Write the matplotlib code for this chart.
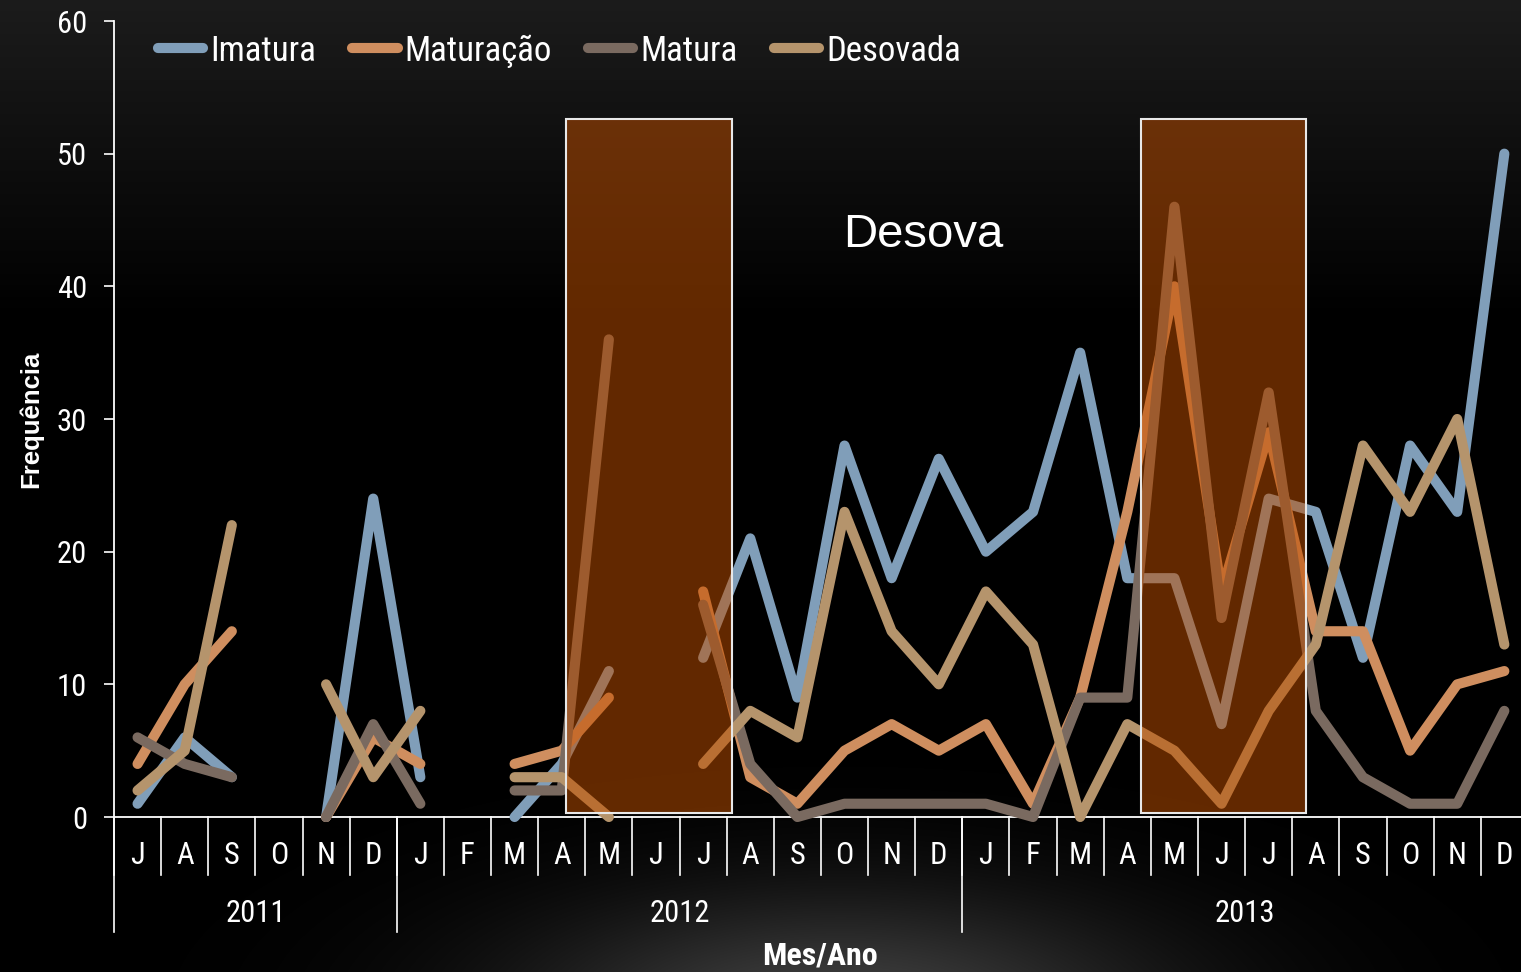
import numpy as np
import matplotlib
matplotlib.use('Agg')
import matplotlib.pyplot as plt
from matplotlib.patches import Rectangle
from matplotlib.font_manager import FontProperties

# ---------------- data ----------------
months = ['J', 'A', 'S', 'O', 'N', 'D',
          'J', 'F', 'M', 'A', 'M', 'J', 'J', 'A', 'S', 'O', 'N', 'D',
          'J', 'F', 'M', 'A', 'M', 'J', 'J', 'A', 'S', 'O', 'N', 'D']
years = ['2011', '2012', '2013']
year_counts = [6, 12, 12]
nan = np.nan
imatura = [1, 6, 3, nan, 0, 24, 3, nan, 0, 4, 11, nan, 12, 21, 9, 28, 18, 27,
           20, 23, 35, 18, 18, 7, 24, 23, 12, 28, 23, 50]
maturacao = [4, 10, 14, nan, 0, 6, 4, nan, 4, 5, 9, nan, 17, 3, 1, 5, 7, 5,
             7, 1, 9, 23, 40, 17, 29, 14, 14, 5, 10, 11]
matura = [6, 4, 3, nan, 0, 7, 1, nan, 2, 2, 36, nan, 16, 4, 0, 1, 1, 1,
          1, 0, 9, 9, 46, 15, 32, 8, 3, 1, 1, 8]
desovada = [2, 5, 22, nan, 10, 3, 8, nan, 3, 3, 0, nan, 4, 8, 6, 23, 14, 10,
            17, 13, 0, 7, 5, 1, 8, 13, 28, 23, 30, 13]
series_names = ['Imatura', 'Maturação', 'Matura', 'Desovada']
series_values = [imatura, maturacao, matura, desovada]
colors = ['#809EB9', '#CF8E5F', '#7A6A60', '#B5946C']

# ---------------- style ----------------
NARROW = ['Roboto Condensed', 'Archivo Narrow', 'PT Sans Narrow', 'DejaVu Sans']
REG = ['Arimo', 'Liberation Sans', 'DejaVu Sans']
W, H = 1521, 972
fig = plt.figure(figsize=(W / 100, H / 100), dpi=100)
fig.patch.set_facecolor('black')

# background gradient
bg = fig.add_axes([0, 0, 1, 1])
bg.axis('off')
yy, xx = np.mgrid[0:H, 0:W].astype(float)
top = 28 * np.clip(1 - yy / 320, 0, 1)
glow = 62 * np.exp(-(((xx - 840) / 330) ** 2 + ((yy - 1010) / 120) ** 2))
v = np.maximum(top, glow) / 255
bg.imshow(np.dstack([v, v, v]), extent=[0, 1, 0, 1], aspect='auto', origin='upper')
bg.set_xlim(0, 1)
bg.set_ylim(0, 1)

ax_l, ax_b, ax_t = 114, 817, 21
ax = fig.add_axes([ax_l / W, 1 - ax_b / H, (W - ax_l) / W, (ax_b - ax_t) / H])
ax.set_facecolor('none')
step = 47.13
x = np.arange(len(months))
ax.set_xlim(-0.5, -0.5 + (W - ax_l) / step)
ax.set_ylim(0, 60)

for name, vals, c in zip(series_names, series_values, colors):
    ax.plot(x, vals, color=c, lw=7.3, solid_capstyle='round',
            solid_joinstyle='round', label=name, clip_on=False, zorder=3)

# spawning period boxes
for x0, x1 in [(9.08, 12.62), (21.3, 24.8)]:
    ax.add_patch(Rectangle((x0, 0.3), x1 - x0, 52.6 - 0.3,
                           facecolor=(0.745, 0.306, 0.0, 0.52),
                           edgecolor='#e8e8e8', lw=1.5, zorder=5))
ax.text(16.67, 43.9, 'Desova', fontsize=34, color='white', ha='center',
        va='center', family=REG, zorder=6)

# axes styling
for s in ['top', 'right']:
    ax.spines[s].set_visible(False)
for s in ['left', 'bottom']:
    ax.spines[s].set_color('white')
    ax.spines[s].set_linewidth(1.3)
ax.set_yticks(range(0, 61, 10))
ax.tick_params(axis='y', colors='white', length=7.5, width=1.2, pad=12,
               labelsize=22)
for lbl in ax.get_yticklabels():
    lbl.set_family(NARROW)
ax.set_xticks([])

trans = ax.get_xaxis_transform()
hpx = ax_b - ax_t
for i in range(len(months) + 1):
    ax.plot([i - 0.5, i - 0.5], [0, -58 / hpx], color='white', lw=1.2,
            transform=trans, clip_on=False)
for i, m in enumerate(months):
    ax.text(i, -38 / hpx, m, transform=trans, ha='center', va='center',
            fontsize=22, family=NARROW, color='white')
start = 0
bounds = [-0.5]
for yl, n in zip(years, year_counts):
    ax.text(start + (n - 1) / 2, -96 / hpx, yl, transform=trans, ha='center',
            va='center', fontsize=22, family=NARROW, color='white')
    start += n
    bounds.append(start - 0.5)
for b in bounds:
    ax.plot([b, b], [0, -115 / hpx], color='white', lw=1.2,
            transform=trans, clip_on=False)

fig.text(820 / W, 1 - 955 / H, 'Mes/Ano', ha='center', va='center',
         fontsize=23, fontweight='bold', family=NARROW, color='white')
fig.text(31 / W, 1 - 419 / H, 'Frequência', ha='center', va='center',
         rotation=90, fontsize=18.5, fontweight='bold', family=REG, color='white')

leg = ax.legend(loc='center left', bbox_to_anchor=((158 - ax_l) / (W - ax_l), (ax_b - 51) / hpx),
                ncol=4, frameon=False, prop=FontProperties(family=NARROW, size=25),
                handlelength=1.3, handletextpad=0.2, columnspacing=1.05,
                borderpad=0, borderaxespad=0, labelcolor='white')

fig.savefig('out.png', dpi=100, facecolor=fig.get_facecolor())
